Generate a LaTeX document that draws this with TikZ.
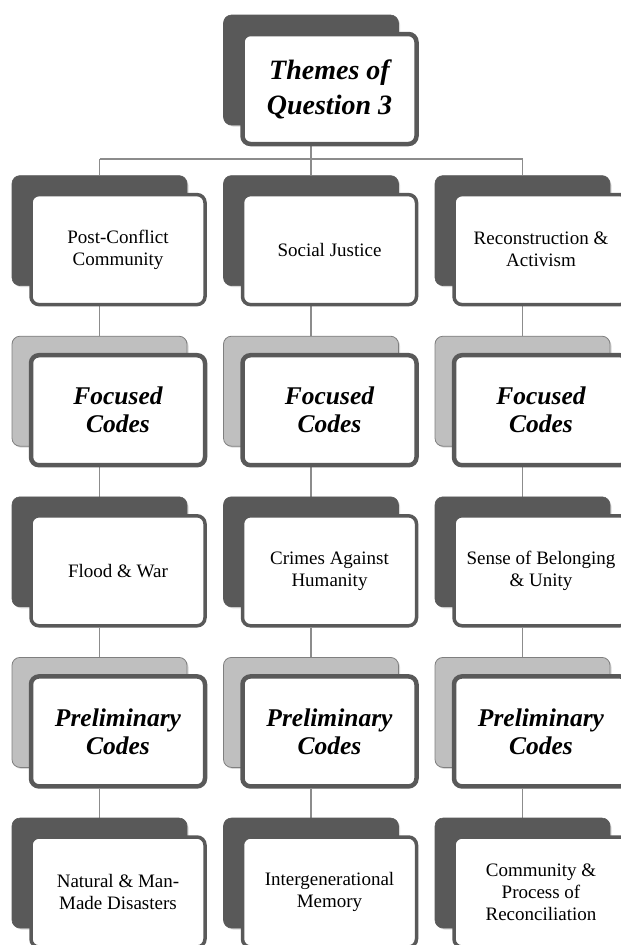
\documentclass[tikz,border=0pt]{standalone}
\usepackage{fontspec}
\setmainfont{Liberation Serif}
\usetikzlibrary{positioning,shadows,backgrounds}
\definecolor{shade}{HTML}{595959}
\definecolor{mist}{HTML}{BFBFBF}
\definecolor{steel}{HTML}{7F7F7F}
\definecolor{wire}{HTML}{8C8C8C}

\begin{document}
\begin{tikzpicture}[
  x=1pt, y=-1pt,
  % Back plate styles
  back/.style={
    rectangle,
    rounded corners=8pt,
    minimum width=175pt,
    minimum height=110pt,
    inner sep=0pt,
    drop shadow={shadow xshift=1.5pt, shadow yshift=-1.5pt, opacity=0.3},
  },
  dark back/.style={
    back,
    fill=shade,
    draw=shade,
    line width=0.6pt,
  },
  light back/.style={
    back,
    fill=mist,
    draw=steel,
    line width=0.8pt,
  },
  % Front card styles
  card/.style={
    rectangle,
    rounded corners=8pt,
    fill=white,
    draw=shade,
    line width=3.5pt,
    minimum width=174pt,
    minimum height=110pt,
    inner sep=2pt,
    align=center,
    text=black,
    font=\fontsize{19}{22}\selectfont,
  },
  head card/.style={
    card,
    line width=4.5pt,
    font=\fontsize{25.5}{28}\selectfont\bfseries\itshape,
  },
  % Connector style
  link/.style={
    draw=wire,
    line width=1.3pt,
  },
]

  \useasboundingbox (0,0) rectangle (621,945);

  % Spacing constants (plain numbers, in px)
  \pgfmathsetmacro{\colsep}{211.5}  % horizontal distance between columns
  \pgfmathsetmacro{\rowsep}{160.6}  % vertical distance between rows
  \pgfmathsetmacro{\dx}{18.5}       % card offset from its back plate
  \pgfmathsetmacro{\dy}{19}

  % Top theme
  \node[dark back] (B-0) at (311, 70) {};
  \node[head card, font=\fontsize{28}{35}\selectfont\bfseries\itshape]
    (C-0) at ([shift={(\dx,\dy)}]B-0.center) {Themes of\\Question 3};

  % Row 1: themes
  \foreach \txt [count=\c] in {{Post-Conflict\\Community},{Social Justice},{Reconstruction \&\\Activism}} {
    \pgfmathsetmacro{\xpos}{99.5 + (\c - 1) * \colsep}
    \pgfmathsetmacro{\ypos}{70 + 1 * \rowsep}
    \node[dark back] (B-1-\c) at (\xpos, \ypos) {};
    \node[card] (C-1-\c) at ([shift={(\dx,\dy)}]B-1-\c.center) {\txt};
  }

  % Row 2: focused codes headers
  \foreach \c in {1,2,3} {
    \pgfmathsetmacro{\xpos}{99.5 + (\c - 1) * \colsep}
    \pgfmathsetmacro{\ypos}{70 + 2 * \rowsep}
    \node[light back] (B-2-\c) at (\xpos, \ypos) {};
    \node[head card] (C-2-\c) at ([shift={(\dx,\dy)}]B-2-\c.center) {Focused\\Codes};
  }

  % Row 3: focused codes
  \foreach \txt [count=\c] in {{Flood \& War},{Crimes Against\\Humanity},{Sense of Belonging\\\& Unity}} {
    \pgfmathsetmacro{\xpos}{99.5 + (\c - 1) * \colsep}
    \pgfmathsetmacro{\ypos}{70 + 3 * \rowsep}
    \node[dark back] (B-3-\c) at (\xpos, \ypos) {};
    \node[card] (C-3-\c) at ([shift={(\dx,\dy)}]B-3-\c.center) {\txt};
  }

  % Row 4: preliminary codes headers
  \foreach \c in {1,2,3} {
    \pgfmathsetmacro{\xpos}{99.5 + (\c - 1) * \colsep}
    \pgfmathsetmacro{\ypos}{70 + 4 * \rowsep}
    \node[light back] (B-4-\c) at (\xpos, \ypos) {};
    \node[head card] (C-4-\c) at ([shift={(\dx,\dy)}]B-4-\c.center) {Preliminary\\Codes};
  }

  % Row 5: preliminary codes
  \foreach \txt [count=\c] in {{Natural \& Man-\\Made Disasters},{Intergenerational\\Memory},{Community \&\\Process of\\Reconciliation}} {
    \pgfmathsetmacro{\xpos}{99.5 + (\c - 1) * \colsep}
    \pgfmathsetmacro{\ypos}{70 + 5 * \rowsep}
    \node[dark back] (B-5-\c) at (\xpos, \ypos) {};
    \node[card] (C-5-\c) at ([shift={(\dx,\dy)}]B-5-\c.center) {\txt};
  }

  % Connectors, behind the boxes
  \begin{scope}[on background layer]
    \coordinate (bus) at (0, 159);
    \draw[link] (B-0.south |- C-0.south) -- (B-0.south |- bus);
    \draw[link] (B-1-1.north |- bus) -- (B-1-3.north |- bus);
    \foreach \c in {1,2,3} {
      \draw[link] (B-1-\c.north |- bus) -- (B-1-\c.north);
    }
    \foreach \r in {2,...,5} {
      \pgfmathtruncatemacro{\p}{\r - 1}
      \foreach \c in {1,2,3} {
        \draw[link] (B-\r-\c.north |- C-\p-\c.south) -- (B-\r-\c.north);
      }
    }
  \end{scope}

\end{tikzpicture}
\end{document}
